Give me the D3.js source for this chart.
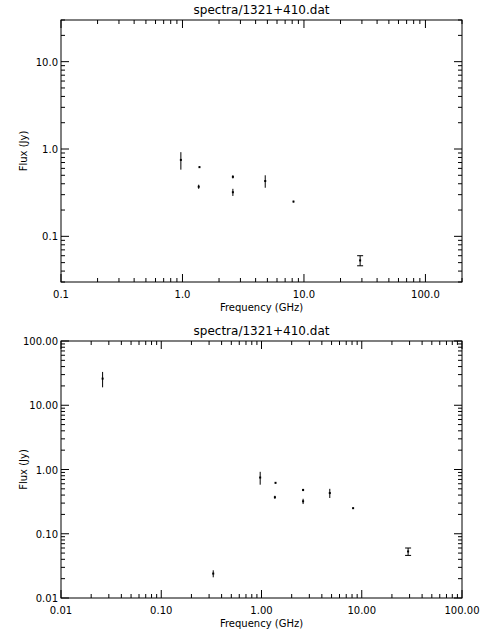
<!DOCTYPE html>
<meta charset="utf-8">
<script src="https://d3js.org/d3.v7.min.js"></script>
<style>body{margin:0;background:#fff} text{font-family:"DejaVu Sans",sans-serif;font-size:10px;fill:#000}</style>
<div id="chart"></div>
<script>
  var title = "spectra/1321+410.dat";

  // top panel: freq (GHz), flux (Jy), error
  var topFreq = [0.97, 1.38, 1.36, 2.6, 2.6, 4.8, 8.2, 29];
  var topFlux = [0.75, 0.62, 0.37, 0.48, 0.32, 0.43, 0.25, 0.053];
  var topErr = [0.17, 0.01, 0.02, 0.02, 0.03, 0.07, 0.005, 0.007];

  // bottom panel adds low-frequency points
  var botFreq = [0.026, 0.33, 0.97, 1.38, 1.36, 2.6, 2.6, 4.8, 8.2, 29];
  var botFlux = [26, 0.024, 0.75, 0.62, 0.37, 0.48, 0.32, 0.43, 0.25, 0.053];
  var botErr = [7, 0.003, 0.17, 0.01, 0.02, 0.02, 0.03, 0.07, 0.005, 0.007];

  var topXTicks = [0.1, 1, 10, 100], topXLabels = ["0.1", "1.0", "10.0", "100.0"];
  var topYTicks = [0.1, 1, 10], topYLabels = ["0.1", "1.0", "10.0"];
  var botXTicks = [0.01, 0.1, 1, 10, 100], botXLabels = ["0.01", "0.10", "1.00", "10.00", "100.00"];
  var botYTicks = [0.01, 0.1, 1, 10, 100], botYLabels = ["0.01", "0.10", "1.00", "10.00", "100.00"];

  var svg = d3.select("#chart").append("svg").attr("width", 480).attr("height", 640);

  function minors(dom) {
    var out = [];
    for (var e = Math.floor(Math.log10(dom[0])); e <= Math.ceil(Math.log10(dom[1])); e++)
      for (var k = 1; k < 10; k++) {
        var v = k * Math.pow(10, e);
        if (v >= dom[0] * 0.999 && v <= dom[1] * 1.001) out.push({ v: v, major: k == 1 });
      }
    return out;
  }

  function panel(box, xDom, yDom, xT, xL, yT, yL, freq, flux, err) {
    var x = d3.scaleLog().domain(xDom).range([box.l, box.r]);
    var y = d3.scaleLog().domain(yDom).range([box.b, box.t]);
    var g = svg.append("g");
    g.append("rect").attr("x", box.l).attr("y", box.t).attr("width", box.r - box.l).attr("height", box.b - box.t)
      .attr("fill", "none").attr("stroke", "#000");
    minors(xDom).forEach(function (m) {
      var len = m.major ? 8 : 4, px = x(m.v);
      g.append("line").attr("x1", px).attr("x2", px).attr("y1", box.b).attr("y2", box.b - len).attr("stroke", "#000");
      g.append("line").attr("x1", px).attr("x2", px).attr("y1", box.t).attr("y2", box.t + len).attr("stroke", "#000");
    });
    minors(yDom).forEach(function (m) {
      var len = m.major ? 8 : 4, py = y(m.v);
      g.append("line").attr("x1", box.l).attr("x2", box.l + len).attr("y1", py).attr("y2", py).attr("stroke", "#000");
      g.append("line").attr("x1", box.r).attr("x2", box.r - len).attr("y1", py).attr("y2", py).attr("stroke", "#000");
    });
    xT.forEach(function (v, i) {
      g.append("text").attr("x", x(v)).attr("y", box.b + 16).attr("text-anchor", "middle").text(xL[i]);
    });
    yT.forEach(function (v, i) {
      g.append("text").attr("x", box.l - 3).attr("y", y(v) + 4).attr("text-anchor", "end").text(yL[i]);
    });
    g.append("text").attr("x", (box.l + box.r) / 2).attr("y", box.t - 6).attr("text-anchor", "middle")
      .style("font-size", "12px").text(title);
    g.append("text").attr("x", (box.l + box.r) / 2).attr("y", box.b + 29).attr("text-anchor", "middle").text("Frequency (GHz)");
    g.append("text").attr("transform", "translate(" + (box.l - 34) + "," + ((box.t + box.b) / 2) + ") rotate(-90)")
      .attr("text-anchor", "middle").text("Flux (Jy)");
    freq.forEach(function (f, i) {
      var px = x(f), lo = y(flux[i] - err[i]), hi = y(flux[i] + err[i]);
      g.append("line").attr("x1", px).attr("x2", px).attr("y1", lo).attr("y2", hi).attr("stroke", "#000").attr("stroke-width", 1);
      g.append("rect").attr("x", px - 1).attr("y", y(flux[i]) - 1).attr("width", 2).attr("height", 2).attr("fill", "#000");
      if (f > 20) {
        [lo, hi].forEach(function (yy) {
          g.append("line").attr("x1", px - 3).attr("x2", px + 3).attr("y1", yy).attr("y2", yy).attr("stroke", "#000");
        });
      }
    });
  }

  panel({ l: 61, r: 462, t: 20, b: 282 }, [0.1, 200], [0.03, 30], topXTicks, topXLabels, topYTicks, topYLabels, topFreq, topFlux, topErr);
  panel({ l: 61, r: 462, t: 341, b: 598 }, [0.01, 100], [0.01, 100], botXTicks, botXLabels, botYTicks, botYLabels, botFreq, botFlux, botErr);
</script>
